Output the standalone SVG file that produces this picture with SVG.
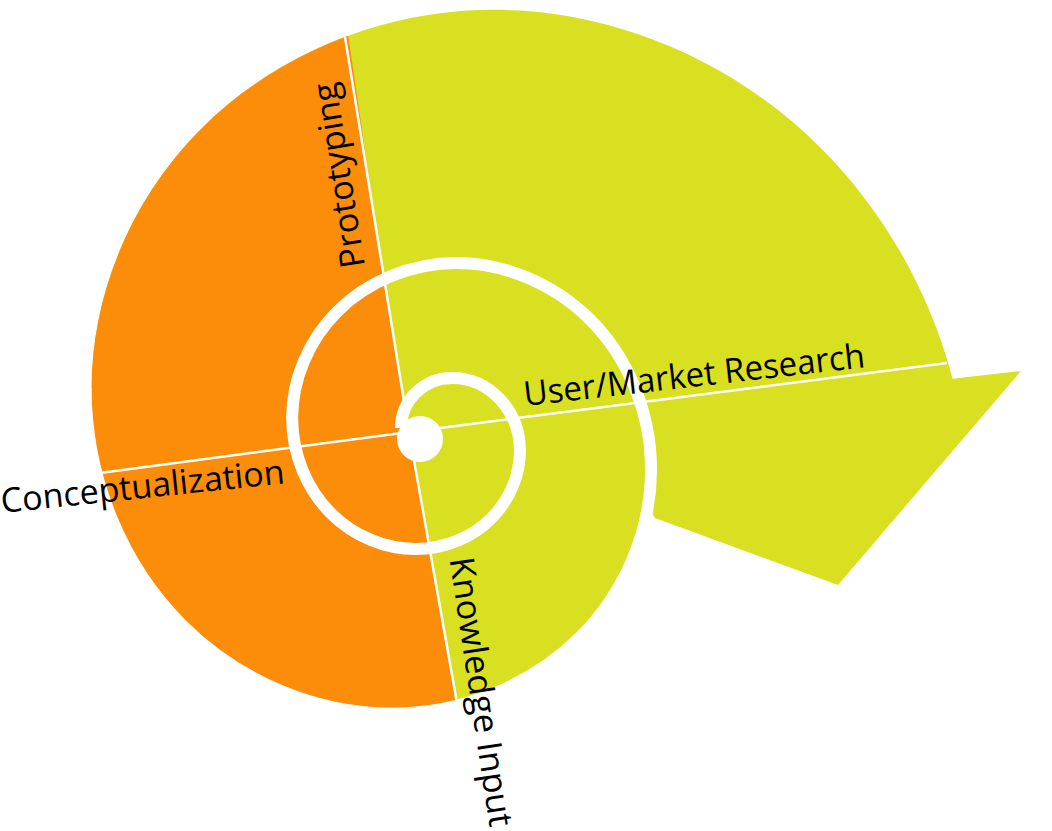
<svg xmlns="http://www.w3.org/2000/svg" width="1052" height="831" viewBox="0 0 1052 831">
<defs>
<style>
.lbl{font-family:"Open Sans","Liberation Sans",sans-serif;font-size:34px;fill:#000;}
.div{stroke:#fff;stroke-width:2.5;fill:none;stroke-linecap:butt}
.spiral{stroke:#fff;stroke-width:12;fill:none;stroke-linecap:butt;stroke-linejoin:round}
</style>
<path id="outline" d="M655,518 L650,510 L651.02,469.75 C651.02,528.42 626.73,590.58 580.25,637.06 C533.77,683.54 465.3,713.54 391.65,713.54 C318,713.54 239.99,683.06 181.64,624.72 C123.29,566.38 85.64,480.41 85.64,387.97 L91.64,388.84 C91.41,297.97 128.8,201.52 200.76,129.23 C272.72,56.94 378.96,10.11 493.42,9.87 C607.88,9.63 729.33,56.8 820.31,147.45 C881.51,208.42 928.68,288.4 952.57,378.63 L1021,371 L838,585 Z"/>
<clipPath id="leftHalf">
<polygon points="0,-10 342,-10 348.5,37 382,268 409,432 481,840 0,840"/>
</clipPath>
</defs>
<g id="segments">
<use href="#outline" fill="#D9E021"/>
<use href="#outline" fill="#FC8D0B" clip-path="url(#leftHalf)"/>
</g>
<g id="connectors">
<line class="div" x1="345" y1="37" x2="409" y2="432"/>
<line class="div" x1="409" y1="432" x2="457" y2="703"/>
<line class="div" x1="100" y1="473" x2="409" y2="432"/>
<line class="div" x1="409" y1="432" x2="947" y2="363"/>
</g>
<g id="spiral">
<path class="spiral" d="M401,428 C401,400.4 423.8,378 452,378 C489.5,378 519.93,410.6 519.93,450.79 C519.93,474.42 510.15,499.45 491.42,518.18 C472.69,536.91 445.12,549 415.45,549 C385.78,549 354.35,536.71 330.85,513.21 C307.35,489.71 292.17,455.09 292.17,417.85 C292.17,380.61 307.59,341.16 337.09,311.66 C366.59,282.16 410.05,263.12 456.79,263.12 C503.53,263.12 553.05,282.47 590.08,319.5 C627.11,356.53 651.02,411.08 651.02,469.75 C651.02,528.42 626.73,590.58 580.25,637.06 C533.77,683.54 465.3,713.54 391.65,713.54 C318,713.54 239.99,683.06 181.64,624.72 C123.29,566.38 85.64,480.41 85.64,387.97"/>
<circle cx="420" cy="439" r="23" fill="#fff"/>
</g>
<g id="label-research">
<text class="lbl" x="525" y="406" transform="rotate(-6.5 525 406)" textLength="343" lengthAdjust="spacingAndGlyphs">User/Market Research</text>
</g>
<g id="label-conceptualization">
<text class="lbl" x="2" y="513" transform="rotate(-6 2 513)" textLength="285" lengthAdjust="spacingAndGlyphs">Conceptualization</text>
</g>
<g id="label-prototyping">
<text class="lbl" x="365" y="266" transform="rotate(-99 365 266)" textLength="187" lengthAdjust="spacingAndGlyphs">Prototyping</text>
</g>
<g id="label-knowledge">
<text class="lbl" x="449.5" y="559" transform="rotate(81.5 449.5 559)" textLength="272" lengthAdjust="spacingAndGlyphs">Knowledge Input</text>
</g>
</svg>
